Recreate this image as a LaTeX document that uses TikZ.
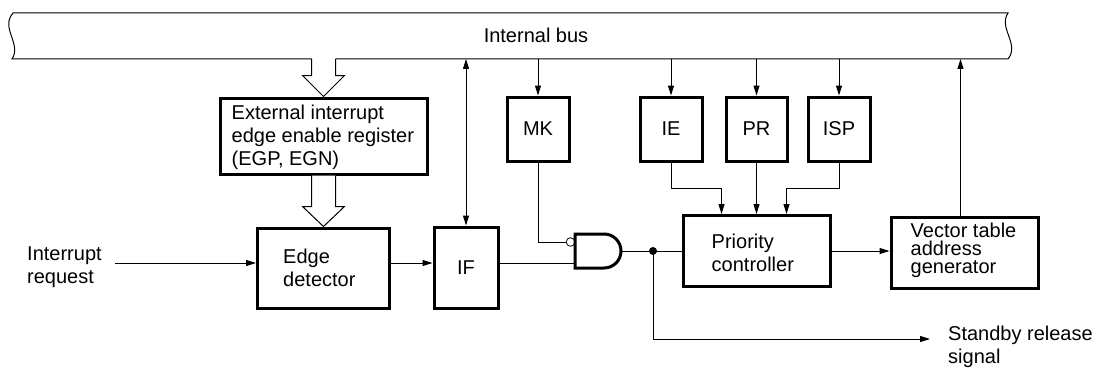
\documentclass[tikz,border=0pt]{standalone}
\usepackage{fontspec}
\setmainfont{Liberation Sans}
\usetikzlibrary{arrows.meta,calc}
\begin{document}
\begin{tikzpicture}[x=1pt,y=-1pt,
  box/.style={draw,line width=3pt,inner sep=0pt,font=\fontsize{20}{23}\selectfont},
  txt/.style={inner sep=0pt,align=left,anchor=west,font=\fontsize{20}{23}\selectfont},
  conn/.style={line width=1pt},
  arr/.style={conn,-{Triangle[length=10pt,width=6pt]}},
  hollow/.style={draw,line width=1pt,fill=white,line join=miter}
]
\useasboundingbox (0,0) rectangle (1097,369);

% boxes
\node[box,minimum width=207pt,minimum height=76pt] (ext) at (323.5,136) {};
\node[box,minimum width=132pt,minimum height=80pt] (edge) at (323.5,268) {};
\node[box,minimum width=64pt,minimum height=81pt] (IF) at (466,267.5) {IF};
\node[box,minimum width=62pt,minimum height=64pt] (MK) at (538,129) {MK};
\node[box,minimum width=62pt,minimum height=64pt] (IE) at (671,129) {IE};
\node[box,minimum width=61pt,minimum height=64pt] (PR) at (756.5,129) {PR};
\node[box,minimum width=62pt,minimum height=64pt] (ISP) at (839,129) {ISP};
\node[box,minimum width=147pt,minimum height=71pt] (PC) at (756.5,251) {};
\node[box,minimum width=147pt,minimum height=71pt] (VT) at (964.5,252.5) {};

% texts
\node[txt] (extT) at ($(ext.west)+(13,1)$) {External interrupt\\edge enable register\\(EGP, EGN)};
\node[txt] (edgeT) at ($(edge.west)+(27,0)$) {Edge\\detector};
\node[txt] (pcT) at ($(PC.west)+(30,2)$) {Priority\\controller};
\node[txt,font=\fontsize{20}{18}\selectfont] (vtT) at ($(VT.west)+(21,-2)$) {Vector table\\address\\generator};
\node[txt] (irqT) at (27,267) {Interrupt\\request};
\node[txt] (sbT) at (948,347) {Standby release\\signal};
\node[inner sep=0pt,font=\fontsize{20}{23}\selectfont] (busT) at (536,35) {Internal bus};

% bus outline
\coordinate (busB) at (0,59);
\coordinate (hl) at ($(ext.north)+(-12,0)$);
\coordinate (hr) at ($(ext.north)+(12,0)$);
\draw[conn] (hr |- busB) -- (1008,59) .. controls (1020,44) and (998,28) .. (1008,13)
  -- (13,13) .. controls (0,28) and (22,44) .. (12,59) -- (hl |- busB);

% hollow arrows
\draw[hollow] (hl |- busB) -- ($(hl)+(0,-21)$) -- ($(ext.north)+(-21,-21)$) -- (ext.north)
  -- ($(ext.north)+(21,-21)$) -- ($(hr)+(0,-21)$) -- (hr |- busB);
\draw[hollow] ($(ext.south)+(-12,0)$) -- ($(edge.north)+(-12,-20)$) -- ($(edge.north)+(-21,-20)$)
  -- (edge.north) -- ($(edge.north)+(21,-20)$) -- ($(edge.north)+(12,-20)$) -- ($(ext.south)+(12,0)$);

% bus to registers
\draw[arr] (MK.north |- busB) -- (MK.north);
\draw[arr] (IE.north |- busB) -- (IE.north);
\draw[arr] (PR.north |- busB) -- (PR.north);
\draw[arr] (ISP.north |- busB) -- (ISP.north);
\draw[conn,{Triangle[length=10pt,width=6pt]}-{Triangle[length=10pt,width=6pt]}] (IF.north |- busB) -- (IF.north);
\coordinate (vtup) at ($(VT.north)+(-4,0)$);
\draw[arr] (vtup) -- (vtup |- busB);

% interrupt request path
\coordinate (irq) at (115,263);
\draw[arr] (irq) -- (irq -| edge.west);
\draw[arr] (irq -| edge.east) -- (irq -| IF.west);

% AND gate
\coordinate (gin1) at (566,242);
\coordinate (gin2) at (575,263);
\coordinate (gout) at (621,251);
\draw[line width=3pt,line join=miter] (575,234) -- (604,234) .. controls (613.4,234) and (621,241.6) .. (621,251)
  .. controls (621,260.4) and (613.4,268) .. (604,268) -- (575,268) -- cycle;
\draw[line width=0.8pt] (570.5,242) circle[radius=4.3];
\draw[conn] (MK.south) |- (gin1);
\draw[conn] (irq -| IF.east) -- (gin2);
\draw[conn] (gout) -- (PC.west);

% junction and standby release
\coordinate (jn) at (653,251);
\fill (jn) circle[radius=4];
\coordinate (sb) at (930,339);
\draw[arr] (jn) |- (sb);

% priority controller inputs
\coordinate (lvl) at (0,188);
\coordinate (pcA) at ($(PC.north west)+(40,0)$);
\coordinate (pcC) at ($(PC.north west)+(105,0)$);
\draw[arr] (IE.south) -- (IE.south |- lvl) -- (pcA |- lvl) -- (pcA);
\draw[arr] (PR.south) -- (PC.north);
\draw[arr] (ISP.south) -- (ISP.south |- lvl) -- (pcC |- lvl) -- (pcC);

% priority controller to vector table
\draw[arr] (PC.east) -- (PC.east -| VT.west);
\end{tikzpicture}
\end{document}
